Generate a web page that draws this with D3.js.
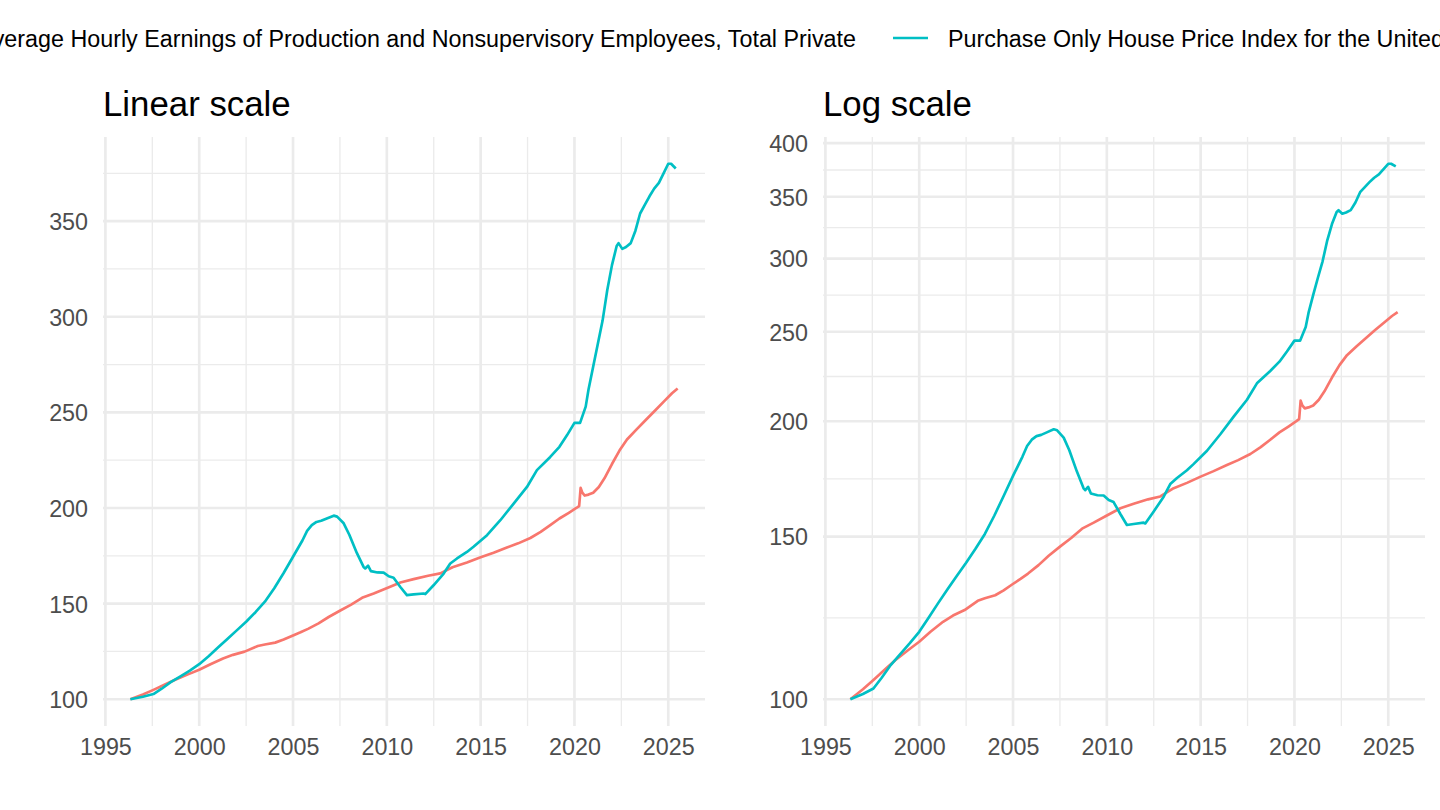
<!DOCTYPE html>
<html>
<head>
<meta charset="utf-8">
<script src="https://cdn.jsdelivr.net/npm/d3@7"></script>
<style>
  html, body { margin: 0; padding: 0; background: #fff; }
  svg { display: block; font-family: "Liberation Sans", Arial, Helvetica, sans-serif; }
</style>
</head>
<body>
<svg id="chart" width="1440" height="810"></svg>
<script>
// ---------------- Data ----------------
const seriesNames = [
  "Average Hourly Earnings of Production and Nonsupervisory Employees, Total Private",
  "Purchase Only House Price Index for the United States"
];
const seriesColors = ["#F8766D", "#00BFC4"];

// Average hourly earnings index (start = 100); x in decimal years
const earnYears = [1996.33, 1997.0, 1997.56, 1998.2, 1998.72, 1999.4, 2000.0, 2000.6, 2001.27, 2001.8,
  2002.42, 2003.12, 2003.5, 2004.05, 2004.5, 2004.97, 2005.4, 2005.8, 2006.36, 2006.9,
  2007.52, 2008.1, 2008.68, 2009.3, 2010.05, 2010.72, 2011.43, 2012.2, 2012.85, 2013.5,
  2014.27, 2015.0, 2015.69, 2016.4, 2017.0, 2017.65, 2018.2, 2018.71, 2019.2, 2019.7,
  2020.1, 2020.25, 2020.33, 2020.42, 2020.55, 2020.75, 2021.0, 2021.3, 2021.6, 2022.0,
  2022.4, 2022.8, 2023.3, 2023.8, 2024.3, 2024.8, 2025.2, 2025.5];
const earnValues = [100, 102.5, 104.9, 107.8, 110.2, 113, 115.4, 118.3, 121.3, 123.2,
  124.9, 127.8, 128.6, 129.6, 131.2, 133.2, 135, 136.8, 139.7, 143,
  146.4, 149.5, 153, 155.3, 158.3, 161, 162.8, 164.6, 165.8, 169,
  171.5, 174.2, 176.6, 179.3, 181.5, 184.3, 187.5, 191, 194.5, 197.5,
  200, 201, 210.5, 208, 206.5, 207, 208, 211, 215.5, 223,
  230, 235.8, 241, 246, 251, 256, 260, 262.5];

// Purchase-only house price index (start = 100)
const hpiYears = [1996.33, 1997.0, 1997.56, 1998.0, 1998.48, 1999.0, 1999.5, 2000.0, 2000.5, 2001.0,
  2001.5, 2002.0, 2002.5, 2003.0, 2003.5, 2004.0, 2004.5, 2005.0, 2005.5, 2005.75,
  2006.0, 2006.25, 2006.5, 2006.8, 2007.17, 2007.35, 2007.7, 2008.0, 2008.4, 2008.76,
  2008.85, 2009.0, 2009.15, 2009.5, 2009.83, 2010.1, 2010.36, 2010.72, 2011.07, 2011.43,
  2011.96, 2012.05, 2012.49, 2013.03, 2013.38, 2013.74, 2014.27, 2014.62, 2015.34, 2016.05,
  2016.76, 2017.47, 2018.0, 2018.71, 2019.2, 2019.6, 2020.0, 2020.3, 2020.6, 2020.75,
  2021.0, 2021.25, 2021.5, 2021.75, 2022.0, 2022.25, 2022.35, 2022.55, 2022.75, 2023.0,
  2023.25, 2023.5, 2023.75, 2024.0, 2024.25, 2024.5, 2024.75, 2025.0, 2025.15, 2025.4];
const hpiValues = [100, 101.3, 102.7, 105.5, 108.9, 112, 115, 118.3, 122.5, 127,
  131.5, 136, 140.5, 145.5, 151, 158, 166, 174.5, 183, 188,
  191, 192.7, 193.3, 194.5, 196, 195.5, 192, 186, 176.5, 169.2,
  168.4, 169.8, 167, 166.3, 166.2, 164.3, 163.5, 158.7, 154.4, 154.8,
  155.3, 155, 159.6, 165.7, 171, 173.6, 177, 179.7, 185.8, 193.6,
  202.3, 211, 219.8, 226.7, 232, 238, 244.5, 244.5, 253, 262,
  274, 286, 298, 314, 327, 337, 338.5, 335.5, 336.5, 338.5,
  345, 354, 358.5, 363, 367, 370, 375, 380, 380, 377.5];

const xTicks = [1995, 2000, 2005, 2010, 2015, 2020, 2025];
const xMinor = [1997.5, 2002.5, 2007.5, 2012.5, 2017.5, 2022.5];
const linTicks = [100, 150, 200, 250, 300, 350];
const linMinor = [125, 175, 225, 275, 325, 375];
const logTicks = [100, 150, 200, 250, 300, 350, 400];
const panelTitles = ["Linear scale", "Log scale"];

// ---------------- Layout ----------------
const svg = d3.select("#chart");
const panelTop = 137, panelBottom = 726;
const panels = [{x0: 103, x1: 705}, {x0: 823, x1: 1425}];
const gridColor = "#EBEBEB";
const majorW = 2.67, minorW = 1.33, lineW = 2.67;
const tickFont = 23.3, titleFont = 34.8, legendFont = 23.3;

const series = [
  earnYears.map((y, i) => ({x: y, v: earnValues[i]})),
  hpiYears.map((y, i) => ({x: y, v: hpiValues[i]}))
];

const allX = earnYears.concat(hpiYears);
const allV = earnValues.concat(hpiValues);
const xMin = d3.min(allX), xMax = d3.max(allX);
const xPad = (xMax - xMin) * 0.05;
const vMin = d3.min(allV), vMax = d3.max(allV);
const linPad = (vMax - vMin) * 0.05;
const lMin = Math.log(vMin), lMax = Math.log(vMax);
const logPad = (lMax - lMin) * 0.05;

const yLin = d3.scaleLinear().domain([vMin - linPad, vMax + linPad]).range([panelBottom, panelTop]);
const yLog = d3.scaleLog().domain([Math.exp(lMin - logPad), Math.exp(lMax + logPad)]).range([panelBottom, panelTop]);

// geometric midpoints for log minor grid
const logMinor = [];
for (let i = 0; i < logTicks.length - 1; i++) logMinor.push(Math.sqrt(logTicks[i] * logTicks[i + 1]));

const panelDefs = [
  {yScale: yLin, major: linTicks, minor: linMinor, title: panelTitles[0]},
  {yScale: yLog, major: logTicks, minor: logMinor, title: panelTitles[1]}
];

panelDefs.forEach((pd, pi) => {
  const P = panels[pi];
  const x = d3.scaleLinear().domain([xMin - xPad, xMax + xPad]).range([P.x0, P.x1]);
  const y = pd.yScale;
  const g = svg.append("g");
  const yb = panelBottom, yt = panelTop;

  // minor grid
  g.selectAll(".hmin").data(pd.minor.filter(v => y(v) >= yt && y(v) <= yb)).join("line")
    .attr("x1", P.x0).attr("x2", P.x1).attr("y1", d => y(d)).attr("y2", d => y(d))
    .attr("stroke", gridColor).attr("stroke-width", minorW);
  g.selectAll(".vmin").data(xMinor).join("line")
    .attr("x1", d => x(d)).attr("x2", d => x(d)).attr("y1", yt).attr("y2", yb)
    .attr("stroke", gridColor).attr("stroke-width", minorW);
  // major grid
  g.selectAll(".hmaj").data(pd.major).join("line")
    .attr("x1", P.x0).attr("x2", P.x1).attr("y1", d => y(d)).attr("y2", d => y(d))
    .attr("stroke", gridColor).attr("stroke-width", majorW);
  g.selectAll(".vmaj").data(xTicks).join("line")
    .attr("x1", d => x(d)).attr("x2", d => x(d)).attr("y1", yt).attr("y2", yb)
    .attr("stroke", gridColor).attr("stroke-width", majorW);

  // axes (text only, like theme_minimal)
  const xAxis = d3.axisBottom(x).tickValues(xTicks).tickFormat(d3.format("d")).tickSize(0).tickPadding(0);
  const xg = g.append("g").attr("transform", `translate(0,${yb})`).call(xAxis);
  xg.select(".domain").remove();
  xg.selectAll("text").attr("y", 28.5).attr("dy", 0)
    .style("font-size", tickFont + "px").attr("fill", "#4D4D4D")
    .style("font-family", "Liberation Sans, Arial, sans-serif");

  const yAxis = d3.axisLeft(y).tickValues(pd.major).tickFormat(d3.format("d")).tickSize(0).tickPadding(0);
  const yg = g.append("g").attr("transform", `translate(${P.x0 - 15},0)`).call(yAxis);
  yg.select(".domain").remove();
  yg.selectAll("text").attr("x", 0).attr("dy", "0.36em")
    .style("font-size", tickFont + "px").attr("fill", "#4D4D4D")
    .style("font-family", "Liberation Sans, Arial, sans-serif");

  // title
  g.append("text").attr("x", P.x0).attr("y", 116).text(pd.title)
    .style("font-size", titleFont + "px").attr("fill", "#000");

  // lines
  const line = d3.line().x(d => x(d.x)).y(d => y(d.v));
  series.forEach((s, si) => {
    g.append("path").datum(s).attr("d", line)
      .attr("fill", "none").attr("stroke", seriesColors[si])
      .attr("stroke-width", lineW).attr("stroke-linejoin", "round");
  });
});

// ---------------- Legend (top, horizontal; clipped at both edges like the reference) ----------------
const leg = svg.append("g");
const legY = 38, legTextY = 46.5;
const key2x0 = 893, key2x1 = 928, text2x = 948, text1End = 856;
const t1 = leg.append("text").attr("x", text1End).attr("y", legTextY).attr("text-anchor", "end")
  .text(seriesNames[0]).style("font-size", legendFont + "px").attr("fill", "#000");
const w1 = t1.node().getComputedTextLength();
const key1x0 = text1End - w1 - (text2x - key2x0);
leg.append("line").attr("x1", key1x0).attr("x2", key1x0 + (key2x1 - key2x0))
  .attr("y1", legY).attr("y2", legY).attr("stroke", seriesColors[0]).attr("stroke-width", lineW);
leg.append("line").attr("x1", key2x0).attr("x2", key2x1)
  .attr("y1", legY).attr("y2", legY).attr("stroke", seriesColors[1]).attr("stroke-width", lineW);
leg.append("text").attr("x", text2x).attr("y", legTextY)
  .text(seriesNames[1]).style("font-size", legendFont + "px").attr("fill", "#000");
</script>
</body>
</html>
